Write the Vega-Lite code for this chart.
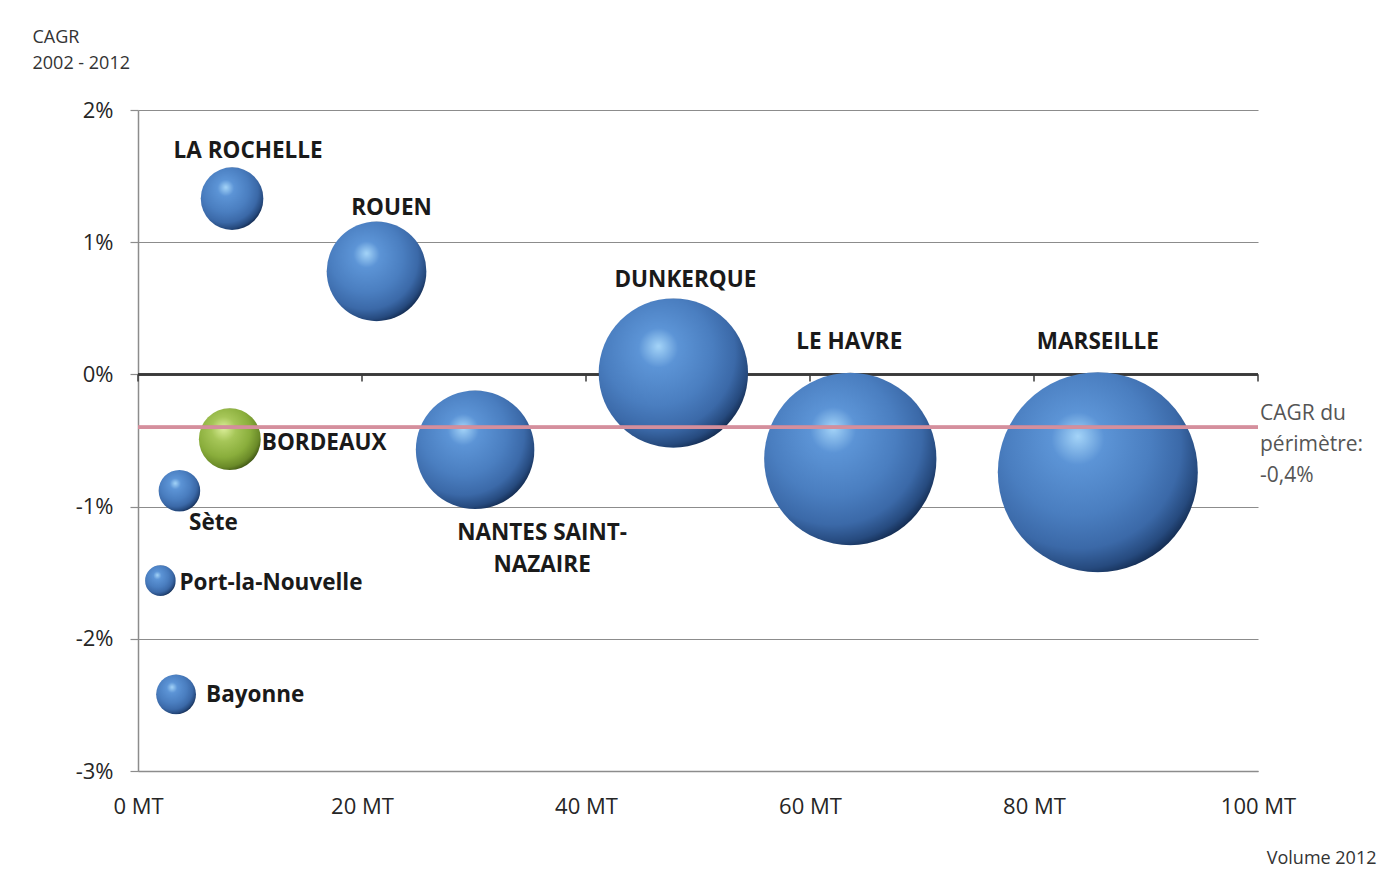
{
  "$schema": "https://vega.github.io/schema/vega-lite/v6.json",
  "width": 1120,
  "height": 661,
  "autosize": {"type": "none"},
  "padding": {"left": 138, "top": 110, "right": 138, "bottom": 117},
  "background": "white",
  "config": {"view": {"stroke": null}, "font": "Open Sans", "text": {"font": "Open Sans"}},
  "data": {
    "values": [
      {"port": "LA ROCHELLE", "volume": 8.4, "cagr": 1.33},
      {"port": "ROUEN", "volume": 21.3, "cagr": 0.78},
      {"port": "DUNKERQUE", "volume": 47.8, "cagr": 0.01},
      {"port": "LE HAVRE", "volume": 63.6, "cagr": -0.64},
      {"port": "MARSEILLE", "volume": 85.7, "cagr": -0.74},
      {"port": "NANTES SAINT-NAZAIRE", "volume": 30.1, "cagr": -0.57},
      {"port": "BORDEAUX", "volume": 8.2, "cagr": -0.49},
      {"port": "Sète", "volume": 3.7, "cagr": -0.88},
      {"port": "Port-la-Nouvelle", "volume": 2.0, "cagr": -1.56},
      {"port": "Bayonne", "volume": 3.4, "cagr": -2.42}
    ]
  },
  "layer": [
    {
      "mark": {"type": "point", "opacity": 0, "size": 1},
      "encoding": {
        "x": {
          "field": "volume", "type": "quantitative",
          "scale": {"domain": [0, 100], "nice": false, "zero": true},
          "axis": {
            "values": [0, 20, 40, 60, 80, 100],
            "labelExpr": "datum.value + ' MT'",
            "grid": false, "ticks": false,
            "domain": true, "domainColor": "#8c8c8c", "domainWidth": 1.5,
            "labelFontSize": 22, "labelColor": "#262626", "labelPadding": 35,
            "labelBaseline": "middle", "labelFlush": false, "labelOverlap": false,
            "title": "Volume 2012", "titleX": 1238, "titleY": 87, "titleAlign": "right",
            "titleBaseline": "middle", "titleFontSize": 18, "titleFontWeight": "normal", "titleColor": "#333333"
          }
        },
        "y": {
          "field": "cagr", "type": "quantitative",
          "scale": {"domain": [-3, 2], "nice": false, "zero": false},
          "axis": {
            "values": [-3, -2, -1, 0, 1, 2],
            "labelExpr": "datum.value + '%'",
            "grid": true, "gridColor": "#8c8c8c", "gridWidth": 1.2,
            "domainColor": "#8c8c8c", "domainWidth": 1.5, "tickColor": "#8c8c8c", "tickSize": 8, "tickWidth": 1.2,
            "labelPadding": 17, "labelFontSize": 22, "labelColor": "#262626",
            "title": ["CAGR", "2002 - 2012"], "titleAngle": 0, "titleAlign": "left", "titleBaseline": "middle",
            "titleX": -106, "titleY": -73, "titleFontSize": 18, "titleFontWeight": "normal",
            "titleLineHeight": 26, "titleColor": "#333333"
          }
        }
      }
    },
    {
      "mark": {"type": "rule", "color": "#3a3a3a", "strokeWidth": 1.5},
      "encoding": {"y": {"datum": 0, "type": "quantitative"}}
    },
    {
      "data": {"values": [{"t": 0}, {"t": 20}, {"t": 40}, {"t": 60}, {"t": 80}, {"t": 100}]},
      "mark": {"type": "tick", "orient": "vertical", "size": 7, "thickness": 1.5, "yOffset": 3.5, "color": "#3a3a3a", "opacity": 1},
      "encoding": {
        "x": {"field": "t", "type": "quantitative"},
        "y": {"datum": 0, "type": "quantitative"}
      }
    },
    {
      "transform": [{"filter": "datum.port !== 'BORDEAUX'"}],
      "mark": {
        "type": "circle", "opacity": 1, "strokeWidth": 0,
        "fill": {
          "gradient": "radial", "x1": 0.4, "y1": 0.32, "r1": 0, "x2": 0.4, "y2": 0.38, "r2": 0.66,
          "stops": [
            {"offset": 0, "color": "#a4d4f8"},
            {"offset": 0.2, "color": "#5c94d6"},
            {"offset": 0.55, "color": "#4a7ec0"},
            {"offset": 0.78, "color": "#3b69a8"},
            {"offset": 0.92, "color": "#264a7e"},
            {"offset": 1, "color": "#132b50"}
          ]
        }
      },
      "encoding": {
        "x": {"field": "volume", "type": "quantitative"},
        "y": {"field": "cagr", "type": "quantitative"},
        "size": {"field": "volume", "type": "quantitative", "scale": {"domain": [0, 85.7], "range": [0, 40000], "zero": true}, "legend": null}
      }
    },
    {
      "transform": [{"filter": "datum.port === 'BORDEAUX'"}],
      "mark": {
        "type": "circle", "opacity": 1, "strokeWidth": 0,
        "fill": {
          "gradient": "radial", "x1": 0.4, "y1": 0.32, "r1": 0, "x2": 0.4, "y2": 0.38, "r2": 0.66,
          "stops": [
            {"offset": 0, "color": "#dcef9a"},
            {"offset": 0.3, "color": "#a6c658"},
            {"offset": 0.65, "color": "#8aae3c"},
            {"offset": 0.88, "color": "#6a8a28"},
            {"offset": 1, "color": "#3e5414"}
          ]
        }
      },
      "encoding": {
        "x": {"field": "volume", "type": "quantitative"},
        "y": {"field": "cagr", "type": "quantitative"},
        "size": {"field": "volume", "type": "quantitative", "scale": {"domain": [0, 85.7], "range": [0, 40000], "zero": true}, "legend": null}
      }
    },
    {
      "mark": {"type": "rule", "color": "#d4909c", "strokeWidth": 3, "opacity": 0.6},
      "encoding": {"y": {"datum": -0.4, "type": "quantitative"}}
    },
    {
      "transform": [{"filter": "datum.port === 'LA ROCHELLE'"}],
      "mark": {"type": "text", "fontWeight": "bold", "fontSize": 22.5, "color": "#1a1a1a", "align": "center", "baseline": "middle", "dx": 16, "dy": -48},
      "encoding": {"text": {"field": "port"}, "x": {"field": "volume", "type": "quantitative"}, "y": {"field": "cagr", "type": "quantitative"}}
    },
    {
      "transform": [{"filter": "datum.port === 'ROUEN'"}],
      "mark": {"type": "text", "fontWeight": "bold", "fontSize": 22.5, "color": "#1a1a1a", "align": "center", "baseline": "middle", "dx": 15, "dy": -63},
      "encoding": {"text": {"field": "port"}, "x": {"field": "volume", "type": "quantitative"}, "y": {"field": "cagr", "type": "quantitative"}}
    },
    {
      "transform": [{"filter": "datum.port === 'DUNKERQUE'"}],
      "mark": {"type": "text", "fontWeight": "bold", "fontSize": 22.5, "color": "#1a1a1a", "align": "center", "baseline": "middle", "dx": 12, "dy": -93},
      "encoding": {"text": {"field": "port"}, "x": {"field": "volume", "type": "quantitative"}, "y": {"field": "cagr", "type": "quantitative"}}
    },
    {
      "transform": [{"filter": "datum.port === 'LE HAVRE'"}],
      "mark": {"type": "text", "fontWeight": "bold", "fontSize": 22.5, "color": "#1a1a1a", "align": "center", "baseline": "middle", "dx": -1, "dy": -117},
      "encoding": {"text": {"field": "port"}, "x": {"field": "volume", "type": "quantitative"}, "y": {"field": "cagr", "type": "quantitative"}}
    },
    {
      "transform": [{"filter": "datum.port === 'MARSEILLE'"}],
      "mark": {"type": "text", "fontWeight": "bold", "fontSize": 22.5, "color": "#1a1a1a", "align": "center", "baseline": "middle", "dx": 0, "dy": -130},
      "encoding": {"text": {"field": "port"}, "x": {"field": "volume", "type": "quantitative"}, "y": {"field": "cagr", "type": "quantitative"}}
    },
    {
      "transform": [{"filter": "datum.port === 'NANTES SAINT-NAZAIRE'"}],
      "mark": {"type": "text", "fontWeight": "bold", "fontSize": 22.5, "color": "#1a1a1a", "align": "center", "baseline": "middle", "dx": 67, "dy": 83, "lineHeight": 32, "text": ["NANTES SAINT-", "NAZAIRE"]},
      "encoding": {"x": {"field": "volume", "type": "quantitative"}, "y": {"field": "cagr", "type": "quantitative"}}
    },
    {
      "transform": [{"filter": "datum.port === 'BORDEAUX'"}],
      "mark": {"type": "text", "fontWeight": "bold", "fontSize": 22.5, "color": "#1a1a1a", "align": "left", "baseline": "middle", "dx": 32, "dy": 4},
      "encoding": {"text": {"field": "port"}, "x": {"field": "volume", "type": "quantitative"}, "y": {"field": "cagr", "type": "quantitative"}}
    },
    {
      "transform": [{"filter": "datum.port === 'Sète'"}],
      "mark": {"type": "text", "fontWeight": "bold", "fontSize": 22.5, "color": "#1a1a1a", "align": "center", "baseline": "middle", "dx": 34, "dy": 32},
      "encoding": {"text": {"field": "port"}, "x": {"field": "volume", "type": "quantitative"}, "y": {"field": "cagr", "type": "quantitative"}}
    },
    {
      "transform": [{"filter": "datum.port === 'Port-la-Nouvelle'"}],
      "mark": {"type": "text", "fontWeight": "bold", "fontSize": 22.5, "color": "#1a1a1a", "align": "left", "baseline": "middle", "dx": 19, "dy": 2},
      "encoding": {"text": {"field": "port"}, "x": {"field": "volume", "type": "quantitative"}, "y": {"field": "cagr", "type": "quantitative"}}
    },
    {
      "transform": [{"filter": "datum.port === 'Bayonne'"}],
      "mark": {"type": "text", "fontWeight": "bold", "fontSize": 22.5, "color": "#1a1a1a", "align": "left", "baseline": "middle", "dx": 30, "dy": 1},
      "encoding": {"text": {"field": "port"}, "x": {"field": "volume", "type": "quantitative"}, "y": {"field": "cagr", "type": "quantitative"}}
    },
    {
      "data": {"values": [{"note": "CAGR du périmètre"}]},
      "mark": {"type": "text", "fontSize": 21, "color": "#555555", "align": "left", "baseline": "middle", "dx": 2, "dy": -13, "lineHeight": 31, "text": ["CAGR du", "périmètre:", "\u2002-0,4%"]},
      "encoding": {"x": {"datum": 100, "type": "quantitative"}, "y": {"datum": -0.4, "type": "quantitative"}}
    }
  ]
}
